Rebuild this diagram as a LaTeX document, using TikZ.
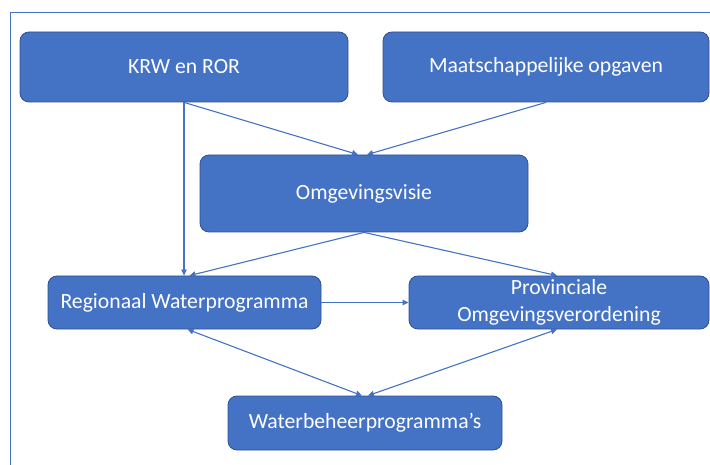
\documentclass[tikz,border=0pt]{standalone}
\usepackage{fontspec}
\setmainfont{Carlito}
\usepackage{xcolor}
\usepackage{tikz}
\usetikzlibrary{arrows.meta}
\definecolor{boxfill}{HTML}{4472C4}
\definecolor{boxedge}{HTML}{2F528F}
\definecolor{linkblue}{HTML}{4472C4}
\tikzset{
  box/.style={draw=boxedge, fill=boxfill, line width=0.8pt, rounded corners=9pt, text=white,
    font=\fontsize{21.7}{27}\selectfont, align=center, inner sep=0pt},
  link/.style={draw=linkblue, line width=1.1pt, -{Triangle[length=6pt,width=5.5pt]}},
  both/.style={link, {Triangle[length=6pt,width=5.5pt]}-{Triangle[length=6pt,width=5.5pt]}},
  frame/.style={draw=linkblue, line width=0.9pt},
}

\begin{document}
\begin{tikzpicture}[x=1pt,y=-1pt]
  \useasboundingbox (0,0) rectangle (710,465);
  \draw[frame] (10,470) |- (715,12);

  \node[box,minimum width=328pt,minimum height=70pt] (krw) at (184,67) {KRW en ROR};
  \node[box,minimum width=326pt,minimum height=70pt] (maat) at (546,67) {Maatschappelijke opgaven};
  \node[box,minimum width=328pt,minimum height=77pt] (visie) at (364,193.5) {Omgevingsvisie};
  \node[box,minimum width=273pt,minimum height=53pt] (rwp) at (184.5,302.5) {Regionaal Waterprogramma};
  \node[box,minimum width=300pt,minimum height=53pt] (pov) at (559,302.5) {Provinciale\\Omgevingsverordening};
  \node[box,minimum width=274pt,minimum height=54pt] (wbp) at (365,423) {Waterbeheerprogramma’s};

  \draw[link] (krw.south) -- ([xshift=-6pt]visie.north);
  \draw[link] (maat.south) -- ([xshift=3pt]visie.north);
  \draw[link] (krw.south) -- (krw.south |- rwp.north);
  \draw[link] (visie.south) -- ([xshift=5pt]rwp.north);
  \draw[link] (visie.south) -- ([xshift=-2pt]pov.north);
  \draw[link] (rwp.east) -- (pov.west);
  \draw[both] ([xshift=3pt]rwp.south) -- ([xshift=-3pt]wbp.north);
  \draw[both] ([xshift=-2pt]pov.south) -- ([xshift=3pt]wbp.north);
\end{tikzpicture}
\end{document}
